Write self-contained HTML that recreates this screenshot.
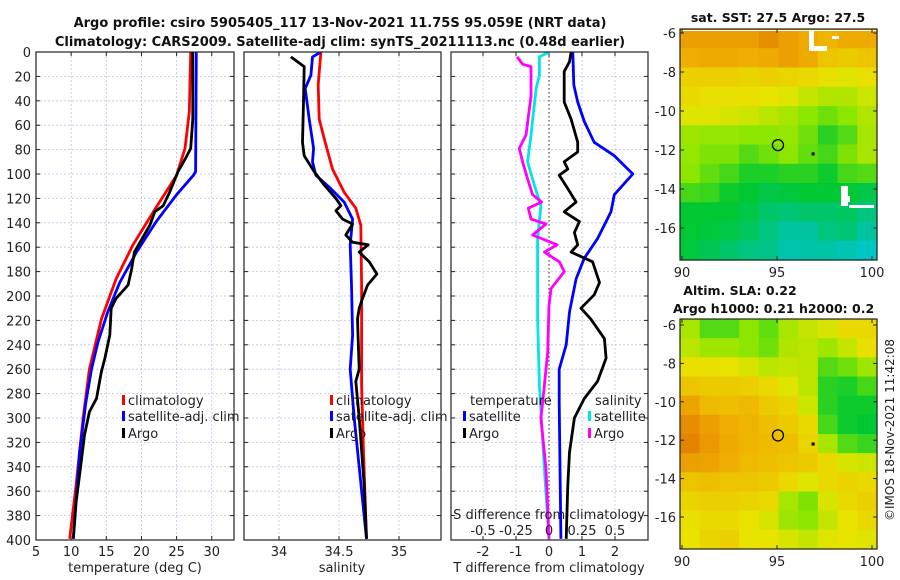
<!DOCTYPE html>
<html><head><meta charset="utf-8">
<style>
html,body{margin:0;padding:0;background:#fff;}
svg{display:block;font-family:"DejaVu Sans","Liberation Sans",sans-serif;}
</style></head>
<body>
<svg id="fig" width="900" height="580" viewBox="0 0 900 580" xmlns="http://www.w3.org/2000/svg">
<text x="340" y="27" text-anchor="middle" font-size="13" font-weight="bold" fill="#111">Argo profile: csiro 5905405_117 13-Nov-2021 11.75S 95.059E (NRT data)</text>
<text x="340" y="46" text-anchor="middle" font-size="13" font-weight="bold" fill="#111">Climatology: CARS2009. Satellite-adj clim: synTS_20211113.nc (0.48d earlier)</text>
<text x="778" y="22" text-anchor="middle" font-size="12.5" font-weight="bold" fill="#111">sat. SST: 27.5 Argo: 27.5</text>
<text x="740" y="295" text-anchor="middle" font-size="12.5" font-weight="bold" fill="#111">Altim. SLA: 0.22</text>
<text x="673" y="313" font-size="12.5" font-weight="bold" fill="#111">Argo h1000: 0.21 h2000: 0.2</text>
<text transform="translate(894,430) rotate(-90)" text-anchor="middle" font-size="12" fill="#222">©IMOS 18-Nov-2021 11:42:08</text>
<g id="layer"></g>
</svg>
<script>
// ---------- data ----------
const tempClimDepth = [0,49,79,101,131,158,186,219,260,300,355,399];
const tempClimVal   = [27.0,26.8,26.2,25.0,21.7,18.8,16.4,14.3,12.6,11.7,10.7,9.8];
const tempSatDepth  = [0,98,101,117,139,164,189,213,238,260,287,328,399];
const tempSatVal    = [27.8,27.7,27.4,25.0,22.1,19.3,16.9,15.2,13.8,12.9,12.1,11.2,10.3];
const tempArgoDepth = [0,55,79,87,98,115,126,131,142,156,164,178,191,202,210,232,251,262,284,295,314,342,369,399];
const tempArgoVal   = [27.3,27.3,27.0,26.3,25.2,24.0,23.1,21.9,21.2,19.8,19.0,18.6,18.1,16.4,15.7,15.5,14.8,14.3,13.6,12.6,11.9,11.3,10.7,10.3];

const salClimDepth = [0,27,55,71,96,115,128,142,191,273,328,399];
const salClimVal   = [34.349,34.327,34.335,34.377,34.446,34.543,34.64,34.682,34.688,34.688,34.704,34.729];
const salSatDepth  = [0,4,19,30,55,79,90,101,112,123,137,158,191,232,260,300,399];
const salSatVal    = [34.349,34.279,34.266,34.218,34.252,34.288,34.279,34.307,34.432,34.543,34.613,34.593,34.604,34.613,34.593,34.627,34.729];
const salArgoDepth = [4,8,12,41,74,85,98,109,120,126,130,137,141,150,156,158,164,172,182,191,202,210,219,260,270,300,355,399];
const salArgoVal   = [34.099,34.154,34.21,34.204,34.196,34.21,34.293,34.377,34.474,34.516,34.474,34.53,34.613,34.557,34.613,34.743,34.668,34.752,34.816,34.738,34.696,34.668,34.654,34.668,34.64,34.668,34.71,34.729];

const dTSatDepth  = [0,27,41,57,74,85,100,117,131,153,169,186,213,240,260,287,399];
const dTSatVal    = [0.72,0.75,0.87,1.07,1.37,1.98,2.54,1.98,1.88,1.47,1.07,0.82,0.62,0.52,0.31,0.31,0.36];
const dTArgoDepth = [0,8,16,41,55,74,82,90,96,101,112,123,131,139,148,158,164,172,189,199,210,219,235,251,270,284,300,328,355,399];
const dTArgoVal   = [0.67,0.62,0.46,0.46,0.67,0.87,0.87,0.46,0.57,0.31,0.57,0.82,0.46,0.92,0.77,0.87,0.67,1.32,1.53,1.37,0.97,1.27,1.68,1.73,1.47,1.07,0.77,0.62,0.57,0.52];
const dSSatDepth  = [0,4,19,30,68,90,109,126,153,219,273,342,399];
const dSSatVal    = [0.0,-0.073,-0.073,-0.098,-0.136,-0.162,-0.111,-0.061,-0.086,-0.086,-0.073,-0.035,0.0];
const dSArgoDepth = [4,10,12,36,68,79,90,104,117,123,128,137,141,150,158,164,172,180,194,208,246,287,300,342,399];
const dSArgoVal   = [-0.242,-0.2,-0.136,-0.136,-0.174,-0.225,-0.2,-0.162,-0.124,-0.056,-0.157,-0.136,-0.023,-0.124,0.061,-0.035,0.078,0.116,0.015,0.0,-0.01,-0.048,-0.061,-0.023,0.0];

const depthTicks = [0,20,40,60,80,100,120,140,160,180,200,220,240,260,280,300,320,340,360,380,400];
const tempTicks = [5,10,15,20,25,30];
const salTicks = [34,34.5,35];
const salTickLabels = ["34","34.5","35"];
const dTTicks = [-2,-1,0,1,2];
const dSTicks = [-0.5,-0.25,0,0.25,0.5];
const dSTickLabels = ["-0.5","-0.25","0","0.25","0.5"];
const lonTicks = [90,95,100];
const latTicks = [-6,-8,-10,-12,-14,-16];

// SST map (rows top->bottom, cols west->east), colour level 0(cyan)..6(orange)
const sstGrid = [
[5.3,5.3,5.3,5.3,5.6,5.3,5.1,4.9,5.1,5.1],
[5.0,5.1,5.1,5.0,5.1,5.3,5.1,4.6,4.5,4.6],
[4.4,4.4,4.4,4.3,4.4,4.3,4.2,4.1,3.9,4.1],
[4.2,4.1,4.1,4.1,4.0,3.9,3.6,3.4,3.4,3.7],
[3.9,3.9,3.8,3.7,3.5,3.3,3.0,2.8,3.0,3.4],
[3.2,3.1,3.1,3.0,3.0,3.1,2.8,2.3,2.6,3.3],
[3.1,2.9,2.9,2.6,2.8,3.0,2.7,2.5,2.9,3.3],
[3.0,2.7,2.5,2.2,2.2,2.3,2.3,2.1,2.5,2.6],
[2.5,2.4,2.1,2.0,1.8,1.9,2.0,2.0,2.0,1.8],
[2.0,2.0,2.0,1.8,1.5,1.4,1.5,1.5,1.6,1.3],
[2.0,1.9,1.8,1.6,1.3,1.0,1.0,1.3,1.4,1.0],
[1.9,1.7,1.5,1.3,1.2,0.8,0.9,0.9,0.7,0.5]];
const slaGrid = [
[3.3,2.6,2.6,3.0,2.7,3.3,3.6,3.8,4.2,4.2],
[3.5,3.2,3.2,3.0,2.8,3.4,3.5,3.2,3.6,4.1],
[4.1,4.1,4.0,3.8,3.5,3.6,3.5,2.6,2.8,3.2],
[4.6,4.5,4.5,4.4,4.2,3.9,3.5,2.3,2.2,2.5],
[5.2,4.8,4.7,4.8,4.5,4.3,3.7,2.3,2.1,2.1],
[5.6,5.3,5.0,4.9,4.7,4.5,4.2,2.5,2.1,2.0],
[5.8,5.4,5.1,4.9,4.8,4.7,4.3,3.3,2.6,2.4],
[5.3,5.2,5.0,4.8,4.7,4.6,4.5,4.2,3.8,3.7],
[4.6,4.7,4.6,4.6,4.5,4.2,3.9,4.2,4.3,4.2],
[4.3,4.4,4.4,4.3,4.2,3.3,2.9,3.8,4.2,4.4],
[4.1,4.2,4.2,4.0,3.8,3.2,3.0,3.6,4.0,4.2],
[4.0,4.3,4.4,4.0,4.0,3.8,3.6,3.9,4.0,3.9]];
const floatLon = [95.05];
const floatLat = [-11.75];
const dotLon = [96.9];
const dotLat = [-12.2];

// ---------- helpers ----------
const NS="http://www.w3.org/2000/svg";
const layer=document.getElementById('layer');
function mk(tag,attrs,parent){const e=document.createElementNS(NS,tag);for(const k in attrs)e.setAttribute(k,attrs[k]);(parent||layer).appendChild(e);return e;}
const Y0=52,Y1=540;
const yD=d=>Y0+(d/400)*(Y1-Y0);
const xT=v=>36+(v-5)*7.03;
const xS=v=>279+(v-34)*120;
const xDT=v=>549+v*33;
const xDS=v=>549+v*132;
const panels=[{x0:36,x1:234},{x0:244,x1:441},{x0:451,x1:648}];

function grid(p,xs,xf){
  const g=mk('g',{});
  
  
  depthTicks.forEach(d=>{mk('line',{x1:p.x0,x2:p.x1,y1:yD(d),y2:yD(d),stroke:'#b8c4e8','stroke-width':0.8,'stroke-dasharray':'2,2'},g);
    mk('line',{x1:p.x0,x2:p.x0+4,y1:yD(d),y2:yD(d),stroke:'#222','stroke-width':1},g);
    mk('line',{x1:p.x1-4,x2:p.x1,y1:yD(d),y2:yD(d),stroke:'#222','stroke-width':1},g);});
  xs.forEach(v=>{const x=xf(v);mk('line',{x1:x,x2:x,y1:Y0,y2:Y1,stroke:'#b8c4e8','stroke-width':0.8,'stroke-dasharray':'2,2'},g);
    mk('line',{x1:x,x2:x,y1:Y1-4,y2:Y1,stroke:'#222','stroke-width':1},g);
    mk('line',{x1:x,x2:x,y1:Y0,y2:Y0+4,stroke:'#222','stroke-width':1},g);});
}
function frame(p,name){const r=mk('rect',{x:p.x0,y:Y0,width:p.x1-p.x0,height:Y1-Y0,fill:'none',stroke:'#222','stroke-width':1.2});
  
  }
function line(depths,vals,xf,color,name,clip){
  const pts=depths.map((d,i)=>xf(vals[i]).toFixed(1)+','+yD(d).toFixed(1)).join(' ');
  const l=mk('polyline',{points:pts,fill:'none',stroke:color,'stroke-width':2.8,'stroke-linejoin':'round','clip-path':'url(#'+clip+')'});
  
  
}
function txt(x,y,s,o,name){const t=mk('text',Object.assign({x:x,y:y,'font-size':13,fill:'#222'},o||{}));t.textContent=s;
  
  return t;}
function legend(x,y,color,label,name){const b=mk('rect',{x:x,y:y-10,width:3,height:10,fill:color});
  
  
  txt(x+6,y,label,{},name);}

const defs=mk('defs',{});
panels.forEach((p,i)=>{const c=mk('clipPath',{id:'cp'+i},defs);mk('rect',{x:p.x0,y:Y0,width:p.x1-p.x0,height:Y1-Y0},c);});

// panel 1
grid(panels[0],tempTicks.slice(1),xT);
line(tempClimDepth,tempClimVal,xT,'#ff0000','temp-climatology-line','cp0');
line(tempSatDepth,tempSatVal,xT,'#0000ff','temp-satellite-line','cp0');
line(tempArgoDepth,tempArgoVal,xT,'#000000','temp-argo-line','cp0');
frame(panels[0],'temperature-panel');
depthTicks.forEach(d=>txt(31,yD(d)+5,String(d),{'text-anchor':'end'},'depth-tick-label'));
tempTicks.forEach(v=>txt(xT(v),556,String(v),{'text-anchor':'middle'},'temp-tick-label'));
txt(135,572,'temperature (deg C)',{'text-anchor':'middle'},'temp-axis-title');
legend(122,405,'#ff0000','climatology','legend-climatology');
legend(122,421,'#0000ff','satellite-adj. clim','legend-satellite-adj');
legend(122,438,'#000000','Argo','legend-argo');

// panel 2
grid(panels[1],salTicks,xS);
line(salClimDepth,salClimVal,xS,'#ff0000','sal-climatology-line','cp1');
line(salSatDepth,salSatVal,xS,'#0000ff','sal-satellite-line','cp1');
line(salArgoDepth,salArgoVal,xS,'#000000','sal-argo-line','cp1');
frame(panels[1],'salinity-panel');
salTicks.forEach((v,i)=>txt(xS(v),556,salTickLabels[i],{'text-anchor':'middle'},'sal-tick-label'));
txt(342,572,'salinity',{'text-anchor':'middle'},'sal-axis-title');
legend(330,405,'#ff0000','climatology','legend2-climatology');
legend(330,421,'#0000ff','satellite-adj. clim','legend2-satellite-adj');
legend(330,438,'#000000','Argo','legend2-argo');

// panel 3
grid(panels[2],dTTicks,xDT);
const zl=mk('line',{x1:xDT(0),x2:xDT(0),y1:Y0,y2:Y1,stroke:'#6b4a2a','stroke-width':1.2,'stroke-dasharray':'1.5,2.5'});


line(dTSatDepth,dTSatVal,xDT,'#0000ff','dT-satellite-line','cp2');
line(dTArgoDepth,dTArgoVal,xDT,'#000000','dT-argo-line','cp2');
line(dSSatDepth,dSSatVal,xDS,'#00e5e5','dS-satellite-line','cp2');
line(dSArgoDepth,dSArgoVal,xDS,'#ff00ff','dS-argo-line','cp2');
frame(panels[2],'difference-panel');
dTTicks.forEach(v=>txt(xDT(v),556,String(v),{'text-anchor':'middle'},'dT-tick-label'));
txt(549,572,'T difference from climatology',{'text-anchor':'middle'},'dT-axis-title');
dSTickLabels.forEach((s,i)=>txt(xDS(dSTicks[i]),535,s,{'text-anchor':'middle'},'dS-tick-label'));
txt(549,519,'S difference from climatology',{'text-anchor':'middle'},'dS-axis-title');
txt(470,405,'temperature',{},'legend3-temperature-header');
legend(463,421,'#0000ff','satellite','legend3-temp-satellite');
legend(463,438,'#000000','Argo','legend3-temp-argo');
txt(595,405,'salinity',{},'legend3-salinity-header');
legend(588,421,'#00e5e5','satellite','legend3-sal-satellite');
legend(588,438,'#ff00ff','Argo','legend3-sal-argo');

// ---------- maps ----------
const stops=[[0,200,230],[0,195,160],[0,200,50],[140,230,0],[232,228,0],[240,175,0],[225,120,0]];
function col(v){v=Math.max(0,Math.min(6,v));const i=Math.min(5,Math.floor(v)),f=v-i;const a=stops[i],b=stops[i+1];
  return 'rgb('+a.map((c,k)=>Math.round(c+(b[k]-c)*f)).join(',')+')';}
function map(m,gridv,name){
  const lx=lon=>682+(lon-90)*19;
  const ly=lat=>m.yA+(lat-(-6))*(-m.dy);
  const g=mk('g',{});
  
  
  const nr=gridv.length, nc=gridv[0].length;
  const cw=197/nc, ch=(m.bot-m.top)/nr;
  gridv.forEach((row,r)=>row.forEach((v,c)=>{
    const cell=mk('rect',{x:(680+c*cw).toFixed(2),y:(m.top+r*ch).toFixed(2),width:(cw+0.6).toFixed(2),height:(ch+0.6).toFixed(2),fill:col(v)},g);
    
    
  }));
  (m.patches||[]).forEach(p=>{
    const w=mk('rect',{x:p[0],y:p[1],width:p[2],height:p[3],fill:'#fff'},g);
    
    
  });
  const cr=mk('circle',{cx:lx(floatLon[0]),cy:ly(floatLat[0]),r:5.5,fill:'none',stroke:'#000','stroke-width':1.3},g);
  
  
  const dt=mk('rect',{x:lx(dotLon[0])-1.5,y:ly(dotLat[0])-1.5,width:3,height:3,fill:'#000'},g);
  
  
  mk('rect',{x:680,y:m.top,width:197,height:m.bot-m.top,fill:'none',stroke:'#222','stroke-width':1.2},g);
  latTicks.forEach(l=>{const y=ly(l);mk('line',{x1:680,x2:684,y1:y,y2:y,stroke:'#222'},g);mk('line',{x1:873,x2:877,y1:y,y2:y,stroke:'#222'},g);
    txt(676,y+5,String(l),{'text-anchor':'end'},'lat-tick-label');});
  lonTicks.forEach(l=>{const x=lx(l);mk('line',{x1:x,x2:x,y1:m.bot-4,y2:m.bot,stroke:'#222'},g);mk('line',{x1:x,x2:x,y1:m.top,y2:m.top+4,stroke:'#222'},g);
    txt(x,m.bot+17,String(l),{'text-anchor':'middle'},'lon-tick-label');});
}
map({top:29,bot:260,yA:33,dy:19.5,patches:[[809,30,5,20],[809,46,18,5],[832,36,7,3],[841,186,7,20],[841,196,9,6],[849,205,25,3],[681,30,195,1]]},sstGrid,'sst-map');
map({top:319,bot:549,yA:325,dy:19.2},slaGrid,'sla-map');
</script>
</body></html>
